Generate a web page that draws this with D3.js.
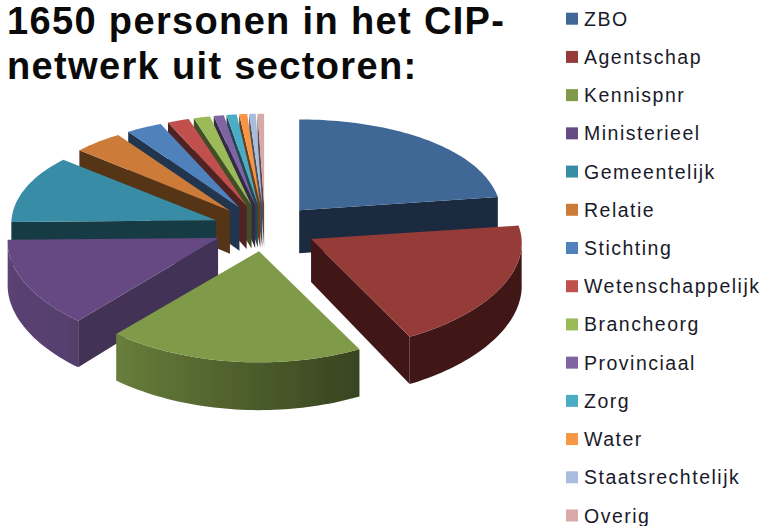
<!DOCTYPE html>
<meta charset="utf-8">
<head>
	<title>1650 personen in het CIP-netwerk</title>
	<script src="https://cdn.jsdelivr.net/npm/d3@7"></script>
	<style>
		html, body { margin: 0; padding: 0; background: #fff; overflow: hidden; }
		text { font-family: "Liberation Sans", Arial, sans-serif; fill: #1a1a2a; }
		.title { font-size: 38px; font-weight: bold; fill: #0a0a0a; letter-spacing: 1.35px; }
		.legend-label { font-size: 19.5px; letter-spacing: 1.5px; }
	</style>
</head>
<body>
	<div id="chart"></div>
	<script>
		// chart data (persons per sector, 1650 in total)
		var sectors = ["ZBO", "Agentschap", "Kennispnr", "Ministerieel", "Gemeentelijk", "Relatie", "Stichting",
			"Wetenschappelijk", "Brancheorg", "Provinciaal", "Zorg", "Water", "Staatsrechtelijk", "Overig"];
		var persons = [377, 325, 307, 224, 188, 69, 50, 30, 23, 14, 14, 11, 9, 9];
		var colors = ["#3f6797", "#953a38", "#7f9a48", "#664a82", "#378ca5", "#cc7b38", "#4f81bd",
			"#c0504d", "#9bbb59", "#8064a2", "#4bacc6", "#f79646", "#a9bcdd", "#d8a9a9"];
		var titleLines = ["1650 personen in het CIP-", "netwerk uit sectoren:"];

		var width = 763, height = 526;
		var svg = d3.select("#chart").append("svg").attr("width", width).attr("height", height);

		// pie geometry
		var cx = 265, cy = 228;   // centre before the slices are pulled out
		var rx = 207, ry = 100;   // ellipse of the top face
		var depth = 43;
		var explode = 52;

		function dropAt(a) { return depth / (1 + 0.1 * Math.cos(a)); }

		// point on the outer edge, front of the disc is drawn a bit bigger
		function project(a, sliceScale) {
			return [rx * sliceScale * Math.sin(a) / (1 + 0.04 * Math.cos(a)), -ry * Math.cos(a) / (1 + 0.1 * Math.cos(a))];
		}

		var pie = d3.pie().sort(null).value(function(d) { return d; });
		var arcs = pie(persons).map(function(d, i) {
			var mid = (d.startAngle + d.endAngle) / 2;
			return {
				i: i, start: d.startAngle, end: d.endAngle, mid: mid,
				ox: cx + explode * Math.sin(mid),
				oy: cy - explode * 0.45 * Math.cos(mid),
				scale: 1 / (1 + 0.036 * Math.cos(mid))
			};
		});

		var line = d3.line();
		var deg = Math.PI / 180;

		function arcPoints(d) {
			var n = Math.max(2, Math.ceil((d.end - d.start) * 40));
			return d3.range(n + 1).map(function(k) {
				var a = d.start + (d.end - d.start) * k / n;
				var p = project(a, d.scale);
				return {a: a, x: d.ox + p[0], y: d.oy + p[1]};
			});
		}

		function radialWall(d, a) {
			var p = project(a, d.scale);
			return line([[d.ox, d.oy], [d.ox + p[0], d.oy + p[1]], [d.ox + p[0], d.oy + p[1] + dropAt(a)],
				[d.ox, d.oy + depth]]) + "Z";
		}

		// how much of the colour is left on a wall, depends on where it faces
		var curvedShade = d3.scaleLinear().domain([150 * deg, 225 * deg, 270 * deg]).range([0.42, 0.85, 0.9]).clamp(true);
		var radialShade = d3.scaleThreshold().domain([180 * deg, 260 * deg]).range([0.42, 0.66, 0.42]);

		function mix(c, k) { return d3.interpolateRgb("#000", c)(k); }

		var defs = svg.append("defs");
		defs.append("filter").attr("id", "soft").append("feGaussianBlur").attr("stdDeviation", 0.55);

		var pieG = svg.append("g").attr("filter", "url(#soft)");

		// painter's order, back slices first
		arcs.slice().sort(function(a, b) { return Math.cos(b.mid) - Math.cos(a.mid); }).forEach(function(d) {
			var c = colors[d.i];
			var g = pieG.append("g");
			var pts = arcPoints(d);

			// a cut face only shows when the slice lies behind that edge
			if (d.start > Math.PI) g.append("path").attr("d", radialWall(d, d.start)).attr("fill", mix(c, radialShade(d.start)));
			if (d.end < Math.PI) g.append("path").attr("d", radialWall(d, d.end)).attr("fill", mix(c, radialShade(d.end)));

			// curved wall, only the part that faces the viewer
			var front = pts.filter(function(p) { return Math.cos(p.a) < 0; });
			if (front.length > 1) {
				var xs = d3.extent(front, function(p) { return p.x; });
				var grad = defs.append("linearGradient").attr("id", "wall" + d.i)
					.attr("gradientUnits", "userSpaceOnUse")
					.attr("x1", xs[0]).attr("x2", xs[1]).attr("y1", 0).attr("y2", 0);
				front.slice().sort(function(a, b) { return a.x - b.x; }).forEach(function(p) {
					grad.append("stop")
						.attr("offset", (p.x - xs[0]) / (xs[1] - xs[0] || 1))
						.attr("stop-color", mix(c, curvedShade(p.a)));
				});
				var wall = front.map(function(p) { return [p.x, p.y]; })
					.concat(front.slice().reverse().map(function(p) { return [p.x, p.y + dropAt(p.a)]; }));
				g.append("path").attr("d", line(wall) + "Z").attr("fill", "url(#wall" + d.i + ")");
			}

			var top = [[d.ox, d.oy]].concat(pts.map(function(p) { return [p.x, p.y]; }));
			g.append("path").attr("d", line(top) + "Z").attr("fill", c);
		});

		// title
		svg.selectAll(".title").data(titleLines).enter().append("text")
			.attr("class", "title")
			.attr("x", 7)
			.attr("y", function(d, i) { return 34.4 + i * 44.5; })
			.text(function(d) { return d; });

		// legend
		var legendY = d3.scalePoint().domain(sectors).range([18.7, 515.5]);
		var legend = svg.selectAll(".legend").data(sectors).enter().append("g")
			.attr("class", "legend")
			.attr("transform", function(d) { return "translate(0," + legendY(d) + ")"; });
		legend.append("rect")
			.attr("x", 566).attr("y", -6).attr("width", 12).attr("height", 12)
			.attr("fill", function(d, i) { return colors[i]; });
		legend.append("text")
			.attr("class", "legend-label")
			.attr("x", 584).attr("y", 7)
			.text(function(d) { return d; });
	</script>
</body>
</html>
